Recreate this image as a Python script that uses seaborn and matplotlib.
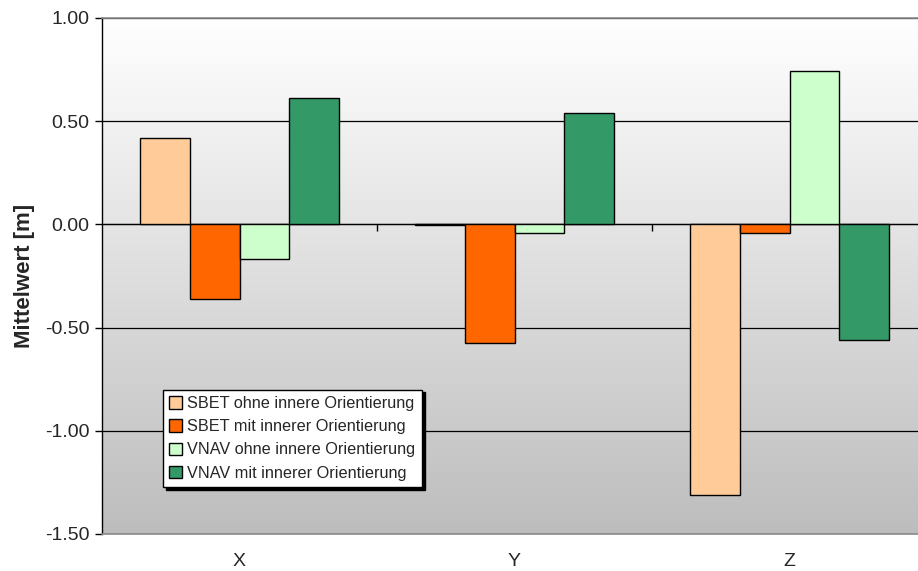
import numpy as np
import pandas as pd
import matplotlib
matplotlib.use("Agg")
import matplotlib.pyplot as plt
import seaborn as sns

# values
categories = ["X", "Y", "Z"]
series_names = [
    "SBET ohne innere Orientierung",
    "SBET mit innerer Orientierung",
    "VNAV ohne innere Orientierung",
    "VNAV mit innerer Orientierung",
]
sbet_ohne = [0.42, -0.005, -1.31]
sbet_mit = [-0.36, -0.575, -0.04]
vnav_ohne = [-0.17, -0.04, 0.745]
vnav_mit = [0.61, 0.54, -0.56]
colors = ["#FFCC99", "#FF6600", "#CCFFCC", "#339966"]
y_ticks = [1.0, 0.5, 0.0, -0.5, -1.0, -1.5]

rows = []
for name, vals in zip(series_names, [sbet_ohne, sbet_mit, vnav_ohne, vnav_mit]):
    for cat, v in zip(categories, vals):
        rows.append({"Achse": cat, "Serie": name, "Mittelwert": v})
df = pd.DataFrame(rows)

sns.set_style("white")
plt.rcParams["font.family"] = ["Liberation Sans", "DejaVu Sans"]

fig = plt.figure(figsize=(9.18, 5.71), dpi=100)
# plot area runs a little past the right edge of the image, as in the original
ax = fig.add_axes([102 / 918, 1 - 534 / 571, 825 / 918, 516 / 571])

# gradient background of the plot area
grad = np.linspace(0, 1, 256).reshape(-1, 1)
ax.imshow(grad, extent=[0, 1, 0, 1], transform=ax.transAxes, aspect="auto",
          cmap=matplotlib.colors.LinearSegmentedColormap.from_list("bg", ["#FFFFFF", "#BDBDBD"]),
          zorder=0, origin="upper")

sns.barplot(data=df, x="Achse", y="Mittelwert", hue="Serie", hue_order=series_names,
            palette=colors, width=0.727, edgecolor="black", linewidth=1.0,
            saturation=1, ax=ax, zorder=3)

ax.set_xlim(-0.5, 2.5)
ax.set_ylim(-1.5, 1.0)
ax.set_yticks(y_ticks)
ax.set_yticklabels([f"{t:.2f}" for t in y_ticks])
ax.yaxis.grid(True, color="black", linewidth=0.9)
ax.set_axisbelow(True)
for ln in ax.get_ygridlines():
    ln.set_zorder(1)

ax.tick_params(axis="y", direction="out", length=5, width=1, color="black",
               labelsize=14, pad=4, left=True)
ax.tick_params(axis="x", length=0, labelsize=14, pad=14)
ax.set_xlabel("")
ax.set_ylabel("Mittelwert [m]", fontsize=16, fontweight="bold", labelpad=7)

for side in ["top", "bottom"]:
    ax.spines[side].set_color("#8C8C8C")
    ax.spines[side].set_linewidth(1.2)
ax.spines["right"].set_visible(False)
ax.spines["left"].set_color("black")
ax.spines["left"].set_linewidth(1.0)

# category axis crossing at zero, tick marks between categories
sec = ax.secondary_xaxis(0.0, transform=ax.transData)
sec.set_xticks([0.5, 1.5])
sec.set_xticklabels([])
sec.tick_params(direction="out", length=5, width=1, color="black")
sec.spines["bottom"].set_color("#555555")
sec.spines["bottom"].set_linewidth(1.0)

leg = ax.legend(loc="lower left", bbox_to_anchor=(0.0739, 0.091), borderaxespad=0,
                fontsize=11.7, frameon=True, fancybox=False, shadow={"color": "black", "alpha": 1},
                handlelength=0.8, handleheight=0.8, handletextpad=0.3,
                labelspacing=0.5, borderpad=0.4)
leg.get_frame().set_edgecolor("black")
leg.get_frame().set_linewidth(1.0)
leg.get_frame().set_facecolor("white")
leg.get_frame().set_alpha(1)
for h in leg.legend_handles:
    h.set_edgecolor("black")
    h.set_linewidth(1.0)

fig.savefig("out.png", dpi=100)
